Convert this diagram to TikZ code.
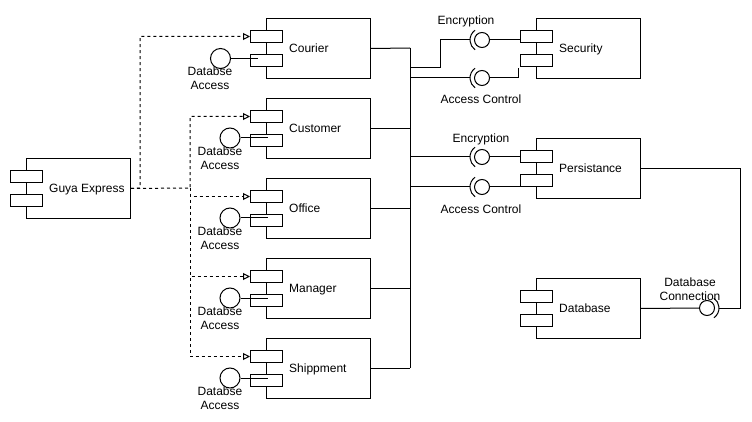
\documentclass[tikz,border=0pt]{standalone}
\usepackage{fontspec}
\setmainfont{Liberation Sans}
\usetikzlibrary{arrows.meta,calc}
\tikzset{
  body/.style={draw, fill=white, line width=1pt, minimum width=104pt, minimum height=60pt, inner sep=0pt, anchor=north west},
  port/.style={draw, fill=white, line width=1pt, minimum width=32pt, minimum height=12pt, inner sep=0pt, anchor=north west},
  lbl/.style={font=\fontsize{12}{14}\selectfont, inner sep=0pt},
  cname/.style={lbl, anchor=west, text height=8.6pt, text depth=0pt},
  two/.style={lbl, align=center},
  ball/.style={draw, circle, line width=1pt, minimum size=15pt, inner sep=0pt},
  lolly/.style={draw, circle, line width=1pt, minimum size=20pt, inner sep=0pt},
  wire/.style={line width=1pt},
  dep/.style={line width=1pt, dash pattern=on 3pt off 3pt, -{Triangle[open, length=7pt, width=7pt, fill=white]}},
}
\newcommand\mycomp[4]{%
  \node[body] (#1) at (#2,#3) {};
  \node[port] (#1-a) at (#2-16,#3+12) {};
  \node[port] (#1-b) at (#2-16,#3+36) {};
  \node[cname] (#1-t) at (#2+23,#3+30) {#4};
}
\newcommand\ifaceL[3]{%
  \node[ball] (#1) at (#2,#3) {};
  \draw[wire] ($(#1)+(125:12pt)$) arc[start angle=125, end angle=235, radius=12pt];
  \coordinate (#1-s) at ($(#1)+(-12,0)$);
}
\newcommand\ifaceR[3]{%
  \node[ball] (#1) at (#2,#3) {};
  \draw[wire] ($(#1)+(-55:12pt)$) arc[start angle=-55, end angle=55, radius=12pt];
  \coordinate (#1-s) at ($(#1)+(12,0)$);
}
\begin{document}
\begin{tikzpicture}[x=1pt,y=-1pt]
\useasboundingbox (0,0) rectangle (752,422);
\fill[white] (0,0) rectangle (752,422);

% components
\mycomp{guya}{26}{158}{Guya Express}
\mycomp{courier}{266}{18}{Courier}
\mycomp{customer}{266}{98}{Customer}
\mycomp{office}{266}{178}{Office}
\mycomp{manager}{266}{258}{Manager}
\mycomp{ship}{266}{338}{Shippment}
\mycomp{sec}{536}{18}{Security}
\mycomp{pers}{536}{138}{Persistance}
\mycomp{db}{536}{278}{Database}

% database access lollipops
\node[lolly] (courier-i) at (220.5,58.5) {};
\draw[wire] (courier-i.east) -- ++(27,0);
\node[two] (courier-l) at (210,78.5) {Databse\\Access};
\foreach \n/\y in {customer/138, office/218, manager/298, ship/378}{
  \node[lolly] (\n-i) at (230,\y) {};
  \draw[wire] (\n-i.east) -- ++(27,0);
  \node[two] (\n-l) at (220,\y+20.3) {Databse\\Access};
}

% dependencies
\coordinate (s1) at (140,188);
\coordinate (s2) at (190,188);
\draw[dep] (guya.east) -- (s1) |- (courier-a.west);
\draw[dep] (guya.east) -- (s2) |- (customer-a.west);
\draw[dep] (s2) |- (office-a.west);
\draw[dep] (s2) |- (manager-a.west);
\draw[dep] (s2) |- (ship-a.west);

% bus
\coordinate (bt) at (410,48);
\coordinate (bb) at (410,368);
\draw[wire] (courier.east) -- (bt);
\foreach \n in {customer, office, manager, ship}{
  \draw[wire] (\n.east) -- (\n.east -| bt);
}
\draw[wire] (bt) -- (bb);

% security interfaces
\ifaceL{se}{482}{40}
\ifaceL{sa}{482}{78}
\coordinate (j1) at (410,68);
\coordinate (k1) at (440,68);
\draw[wire] (j1) -- (k1) |- (se-s);
\draw[wire] (se.east) -- (se.east -| sec-a.west);
\coordinate (j2) at (410,78);
\draw[wire] (j2) -- (sa-s);
\coordinate (sa-e) at (518,68);
\draw[wire] (sa.east) -| (sa-e);
\node[lbl] (se-l) at (466,21) {Encryption};
\node[lbl] (sa-l) at (481,99) {Access Control};

% persistance interfaces
\ifaceL{pe}{482}{157}
\ifaceL{pa}{482}{187}
\coordinate (j3) at (410,157);
\coordinate (j4) at (410,187);
\draw[wire] (j3) -- (pe-s);
\draw[wire] (pe.east) -- (pe.east -| pers-a.west);
\draw[wire] (j4) -- (pa-s);
\draw[wire] (pa.east) -| (pers-b.south west);
\node[lbl] (pe-l) at (481,139) {Encryption};
\node[lbl] (pa-l) at (481,209) {Access Control};

% database connection
\ifaceR{dc}{707}{308}
\coordinate (pr) at (740,308);
\draw[wire] (pers.east) -| (pr) -- (dc-s);
\draw[wire] (db.east) -- (dc.west);
\node[two] (dc-l) at (690,289) {Database\\Connection};
\end{tikzpicture}
\end{document}
